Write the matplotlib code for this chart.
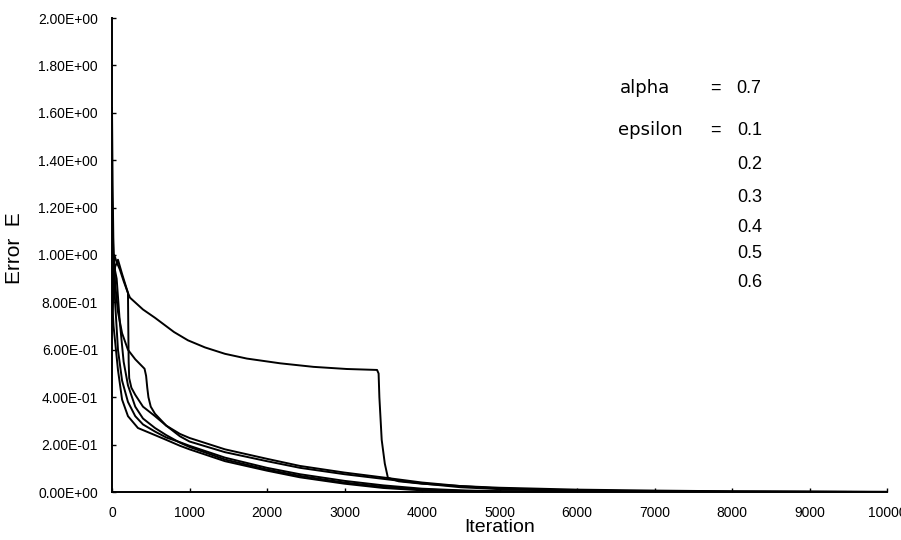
import numpy as np
import matplotlib
matplotlib.use("Agg")
import matplotlib.pyplot as plt
from matplotlib.ticker import FuncFormatter, MultipleLocator

# -------- data --------
# alpha = 0.7, epsilon = 0.1 ... 0.6 ; iteration vs error E
it_1 = [0, 40, 77, 130, 206, 232, 400, 555, 800, 980, 1200, 1458, 1740, 2170,
        2600, 3030, 3420, 3440, 3450, 3480, 3520, 3560, 3700, 4000, 4500, 5000,
        6000, 7000, 8000, 9000, 10000]
err_1 = [0.75, 0.95, 0.98, 0.92, 0.84, 0.82, 0.77, 0.735, 0.675, 0.64, 0.61,
         0.583, 0.563, 0.543, 0.528, 0.519, 0.515, 0.50, 0.40, 0.22, 0.12, 0.06,
         0.045, 0.035, 0.025, 0.018, 0.010, 0.006, 0.003, 0.002, 0.001]

it_2 = [0, 30, 60, 100, 150, 200, 206, 210, 215, 222, 250, 300, 400, 555, 700,
        877, 1000, 1458, 2000, 2425, 3000, 3460, 4000, 4500, 5000, 6000, 7000,
        8000, 10000]
err_2 = [0.85, 1.0, 0.97, 0.94, 0.89, 0.845, 0.84, 0.70, 0.55, 0.48, 0.44, 0.41,
         0.36, 0.32, 0.28, 0.245, 0.228, 0.180, 0.140, 0.110, 0.082, 0.063, 0.04,
         0.025, 0.015, 0.006, 0.003, 0.001, 0.0]

it_3 = [0, 15, 40, 77, 130, 206, 300, 360, 420, 440, 455, 470, 500, 555, 700,
        877, 1000, 1458, 2000, 2425, 3000, 3460, 4000, 4500, 5000, 6000, 8000,
        10000]
err_3 = [1.25, 1.05, 0.88, 0.76, 0.67, 0.60, 0.56, 0.54, 0.52, 0.49, 0.44, 0.40,
         0.36, 0.33, 0.28, 0.235, 0.213, 0.168, 0.130, 0.102, 0.075, 0.057, 0.036,
         0.02, 0.012, 0.005, 0.001, 0.0]

it_4 = [0, 8, 20, 40, 77, 130, 206, 300, 400, 555, 700, 877, 1000, 1458, 2000,
        2425, 3000, 3500, 4000, 4500, 5000, 6000, 10000]
err_4 = [1.62, 1.30, 1.00, 0.80, 0.60, 0.47, 0.38, 0.32, 0.285, 0.255, 0.23,
         0.21, 0.195, 0.145, 0.102, 0.075, 0.047, 0.028, 0.014, 0.007, 0.003,
         0.001, 0.0]

it_5 = [0, 30, 60, 100, 150, 206, 300, 400, 555, 700, 877, 1000, 1458, 2000,
        2425, 3000, 3500, 4000, 4600, 6000, 10000]
err_5 = [0.70, 0.95, 0.90, 0.72, 0.55, 0.45, 0.36, 0.31, 0.27, 0.24, 0.208, 0.19,
         0.137, 0.095, 0.068, 0.040, 0.022, 0.011, 0.004, 0.001, 0.0]

it_6 = [0, 20, 77, 130, 206, 335, 555, 700, 877, 1000, 1458, 2000, 2425, 3000,
        3500, 4000, 5000, 10000]
err_6 = [0.82, 0.70, 0.515, 0.39, 0.32, 0.27, 0.24, 0.22, 0.195, 0.180, 0.130,
         0.090, 0.062, 0.035, 0.017, 0.007, 0.002, 0.0]

series = [(it_1, err_1), (it_2, err_2), (it_3, err_3),
          (it_4, err_4), (it_5, err_5), (it_6, err_6)]

alpha_val = "0.7"
eps_vals = ["0.1", "0.2", "0.3", "0.4", "0.5", "0.6"]

# -------- figure --------
plt.rcParams["font.family"] = ["Liberation Sans", "DejaVu Sans"]

W, H = 901, 540
fig = plt.figure(figsize=(W / 100, H / 100), dpi=100)
ax = fig.add_axes([112 / W, 1 - 492 / H, 775 / W, 474 / H])

for xs, ys in series:
    ax.plot(xs, ys, color="black", lw=1.4, solid_joinstyle="round")

ax.set_xlim(0, 10000)
ax.set_ylim(0, 2.0)
ax.xaxis.set_major_locator(MultipleLocator(1000))
ax.yaxis.set_major_locator(MultipleLocator(0.2))
ax.yaxis.set_major_formatter(FuncFormatter(lambda v, p: "{:.2E}".format(v)))
ax.xaxis.set_major_formatter(FuncFormatter(lambda v, p: "%d" % round(v)))

for side in ("top", "right"):
    ax.spines[side].set_visible(False)
for side in ("left", "bottom"):
    ax.spines[side].set_linewidth(1.4)

ax.tick_params(axis="both", direction="in", length=3, width=1.0, colors="black")
ax.tick_params(axis="y", pad=10)
ax.tick_params(axis="x", pad=10)
for lab in ax.get_yticklabels():
    lab.set_fontfamily(["Liberation Sans Narrow", "Liberation Sans"])
    lab.set_fontsize(10)
for lab in ax.get_xticklabels():
    lab.set_fontsize(10)

ax.set_xlabel("Iteration", fontsize=14, labelpad=-1)
fig.text(15 / W, 1 - 248 / H, "Error  E", rotation=90, ha="center",
         va="center", fontsize=15)

# parameter annotation
tx = ax.transAxes
ax.text(0.655, 0.852, "alpha", transform=tx, fontsize=13, va="center",
        family=["DejaVu Sans"])
ax.text(0.772, 0.852, "=", transform=tx, fontsize=13, va="center")
ax.text(0.806, 0.852, alpha_val, transform=tx, fontsize=13, va="center")
ax.text(0.653, 0.764, "epsilon", transform=tx, fontsize=13, va="center",
        family=["DejaVu Sans"])
ax.text(0.772, 0.762, "=", transform=tx, fontsize=13, va="center")
eps_y = [0.762, 0.690, 0.622, 0.559, 0.504, 0.443]
for v, yy in zip(eps_vals, eps_y):
    ax.text(0.807, yy, v, transform=tx, fontsize=13, va="center")

fig.savefig("out.png", dpi=100, facecolor="white")
